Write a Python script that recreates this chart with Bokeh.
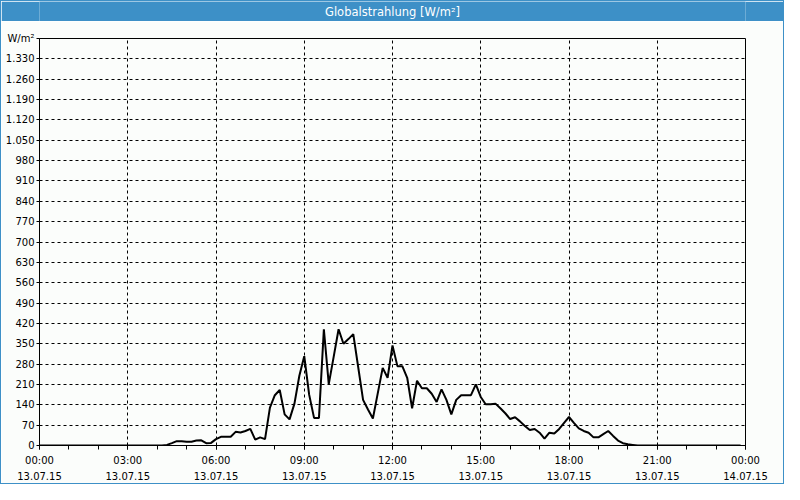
from bokeh.plotting import figure
from bokeh.models import FixedTicker, LinearAxis, Range1d
from bokeh.layouts import column
from bokeh.embed import file_html
from bokeh.resources import INLINE
from bokeh.core.properties import value

# ---------------- data ----------------
title_text = "Globalstrahlung [W/m²]"
y_unit_label = "W/m²"

x_tick_minutes = [0, 180, 360, 540, 720, 900, 1080, 1260, 1440]
x_time_labels = ["00:00", "03:00", "06:00", "09:00", "12:00", "15:00", "18:00", "21:00", "00:00"]
x_date_labels = ["13.07.15", "13.07.15", "13.07.15", "13.07.15", "13.07.15",
                 "13.07.15", "13.07.15", "13.07.15", "14.07.15"]

y_ticks = [0, 70, 140, 210, 280, 350, 420, 490, 560, 630, 700, 770, 840,
           910, 980, 1050, 1120, 1190, 1260, 1330, 1400]

# global radiation, one value every 10 minutes from 00:00 to 23:50 (W/m²)
radiation = [
    # 00:00 - 04:10
    0, 0, 0, 0, 0, 0, 0, 0, 0, 0, 0, 0, 0, 0, 0, 0, 0, 0, 0, 0, 0, 0, 0, 0, 0, 0,
    # 04:20 - 05:50
    2, 8, 15, 15, 13, 13, 17, 18, 8, 9,
    # 06:00 - 07:50
    22, 30, 30, 30, 47, 45, 50, 57, 20, 28, 22, 130,
    # 08:00 - 09:50
    173, 191, 107, 90, 144, 240, 307, 175, 95, 95, 400, 211,
    # 10:00 - 11:50
    305, 400, 350, 366, 383, 270, 157, 124, 93, 180, 267, 233,
    # 12:00 - 13:50
    344, 273, 273, 233, 128, 223, 197, 197, 178, 150, 193, 157,
    # 14:00 - 15:50
    107, 157, 173, 173, 173, 210, 167, 142, 142, 144, 128, 111,
    # 16:00 - 17:50
    91, 97, 83, 67, 53, 57, 44, 24, 44, 41, 57, 78,
    # 18:00 - 19:50
    98, 78, 59, 50, 44, 28, 28, 39, 50, 33, 17, 8,
    # 20:00 - 20:10
    4, 2,
    # 20:20 - 23:50
    0, 0, 0, 0, 0, 0, 0, 0, 0, 0, 0, 0, 0, 0, 0, 0, 0, 0, 0, 0, 0, 0,
]
interval_minutes = 10
minutes = [i * interval_minutes for i in range(len(radiation))]

# ---------------- style ----------------
FONT = "DejaVu Sans"
BLUE = "#3d90c7"
BG = "#fbfdfb"
W = 782

# title bar
head = figure(width=W, height=20, x_range=Range1d(0, 1), y_range=Range1d(0, 1),
              x_axis_location=None, y_axis_location=None, toolbar_location=None,
              output_backend="svg", min_border=0,
              background_fill_color=BLUE, border_fill_color=BLUE, outline_line_color=None)
head.grid.visible = False
head.text(x=[0.5], y=[0.5], text=[title_text], text_color="white",
          text_font=value(FONT), text_font_size="11.5px",
          text_align="center", text_baseline="middle")

# main chart
p = figure(width=W, height=462, x_range=Range1d(0, 1440), y_range=Range1d(0, 1400),
           toolbar_location=None, output_backend="svg",
           background_fill_color=BG, border_fill_color=BG,
           min_border_left=38, min_border_right=38, min_border_top=17, min_border_bottom=38)

p.line(minutes, radiation, line_color="black", line_width=2)

p.outline_line_color = "black"
p.outline_line_width = 1
p.outline_line_alpha = 1

# x axis (time)
xt = FixedTicker(ticks=x_tick_minutes, minor_ticks=list(range(0, 1441, 60)))
xa = p.xaxis[0]
xa.ticker = xt
xa.major_label_overrides = {t: l for t, l in zip(x_tick_minutes, x_time_labels)}
xa.axis_line_color = "black"
xa.major_tick_line_color = "black"
xa.minor_tick_line_color = "black"
xa.major_tick_in = 0
xa.major_tick_out = 4
xa.minor_tick_in = 0
xa.minor_tick_out = 4
xa.major_label_standoff = 5
xa.major_label_text_font = FONT
xa.major_label_text_font_size = "10px"
xa.major_label_text_color = "black"

# x axis (date)
xa2 = LinearAxis(ticker=FixedTicker(ticks=x_tick_minutes),
                 major_label_overrides={t: l for t, l in zip(x_tick_minutes, x_date_labels)},
                 axis_line_color=None, major_tick_line_color=None, minor_tick_line_color=None,
                 major_tick_in=0, major_tick_out=0, major_label_standoff=3,
                 major_label_text_font=FONT, major_label_text_font_size="10px",
                 major_label_text_color="black")
p.add_layout(xa2, "below")

# y axis
ya = p.yaxis[0]
ya.ticker = FixedTicker(ticks=y_ticks)
overrides = {v: f"{v:,}".replace(",", ".") for v in y_ticks}
overrides[y_ticks[-1]] = y_unit_label
ya.major_label_overrides = overrides
ya.axis_line_color = "black"
ya.major_tick_line_color = "black"
ya.minor_tick_line_color = None
ya.major_tick_in = 0
ya.major_tick_out = 3
ya.major_label_standoff = 2
ya.major_label_text_font = FONT
ya.major_label_text_font_size = "10px"
ya.major_label_text_color = "black"

# grids
p.xgrid.ticker = FixedTicker(ticks=x_tick_minutes)
p.ygrid.ticker = FixedTicker(ticks=y_ticks)
for g in (p.xgrid, p.ygrid):
    g.grid_line_color = "black"
    g.grid_line_dash = "3 3"
    g.grid_line_width = 1
    g.grid_line_alpha = 1

layout = column(head, p, spacing=0, styles={"border": f"1px solid {BLUE}"})

open("out.html", "w").write(file_html(layout, INLINE))
